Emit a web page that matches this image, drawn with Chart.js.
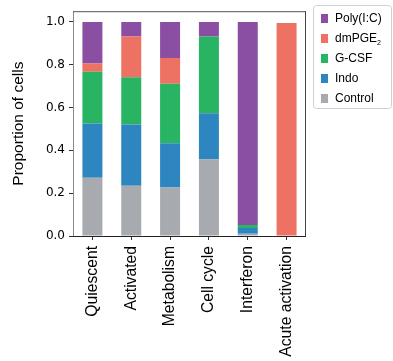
<!DOCTYPE html>
<html lang="en">

<head>
    <meta charset="UTF-8">
    <meta name="viewport" content="width=device-width, initial-scale=1.0">
    <title>Proportion of cells</title>
    <script src="https://cdn.jsdelivr.net/npm/chart.js"></script>
    <style>
        body { margin: 0; background: #fff; }
        #wrap { width: 393px; height: 361px; }
    </style>
</head>

<body>
    <div id="wrap"><canvas id="myChart"></canvas></div>

    <script>
        const categories = ['Quiescent', 'Activated', 'Metabolism', 'Cell cycle', 'Interferon', 'Acute activation'];
        const control = [0.272, 0.235, 0.226, 0.359, 0.011, 0];
        const indo = [0.253, 0.286, 0.207, 0.214, 0.026, 0];
        const gcsf = [0.242, 0.221, 0.278, 0.359, 0.014, 0];
        const dmpge2 = [0.039, 0.190, 0.120, 0, 0, 0.995];
        const polyIC = [0.194, 0.068, 0.169, 0.068, 0.949, 0];
        const yTicks = [0, 0.2, 0.4, 0.6, 0.8, 1.0];

        const sans = '"Liberation Sans", Arial, Helvetica, sans-serif';

        // box around the plot area
        const frame = {
            id: 'frame',
            afterDraw(chart) {
                const { ctx, chartArea: a } = chart;
                const seg = (x1, y1, x2, y2, c) => {
                    ctx.strokeStyle = c;
                    ctx.beginPath();
                    ctx.moveTo(x1, y1);
                    ctx.lineTo(x2, y2);
                    ctx.stroke();
                };
                ctx.save();
                ctx.lineWidth = 1;
                seg(a.left + 0.5, a.top, a.left + 0.5, a.bottom, '#888');
                seg(a.left, a.bottom + 0.5, a.right, a.bottom + 0.5, '#222');
                seg(a.left, a.top + 0.5, a.right, a.top + 0.5, '#555');
                seg(a.right - 0.5, a.top, a.right - 0.5, a.bottom, '#444');
                ctx.restore();
            }
        };

        // legend on the right, top dataset first, trailing digits drawn as subscripts
        const sideLegend = {
            id: 'sideLegend',
            afterDraw(chart) {
                const ctx = chart.ctx;
                const x0 = chart.chartArea.right + 7;
                ctx.save();
                ctx.strokeStyle = '#d0d0d0';
                ctx.lineWidth = 1;
                ctx.beginPath();
                ctx.roundRect(x0 + 0.5, 5.5, 78, 103, 3);
                ctx.stroke();
                const sets = chart.data.datasets.slice().reverse();
                sets.forEach((ds, i) => {
                    const cy = 18 + i * 20;
                    ctx.fillStyle = ds.backgroundColor;
                    ctx.fillRect(x0 + 8, cy - 4, 7, 9);
                    ctx.fillStyle = '#000';
                    ctx.textBaseline = 'middle';
                    ctx.font = '12px ' + sans;
                    const m = ds.label.match(/^(.*?)(\d*)$/);
                    ctx.fillText(m[1], x0 + 22, cy + 1);
                    if (m[2]) {
                        const w = ctx.measureText(m[1]).width;
                        ctx.font = '7px ' + sans;
                        ctx.fillText(m[2], x0 + 22 + w, cy + 5);
                    }
                });
                ctx.restore();
            }
        };

        const ctx = document.getElementById('myChart').getContext('2d');
        const myChart = new Chart(ctx, {
            type: 'bar',
            data: {
                labels: categories,
                datasets: [
                    { label: 'Control', data: control, backgroundColor: '#a7aaae' },
                    { label: 'Indo', data: indo, backgroundColor: '#2e86c1' },
                    { label: 'G-CSF', data: gcsf, backgroundColor: '#29b463' },
                    { label: 'dmPGE2', data: dmpge2, backgroundColor: '#ee7264' },
                    { label: 'Poly(I:C)', data: polyIC, backgroundColor: '#8a4fa3' }
                ]
            },
            options: {
                responsive: true,
                maintainAspectRatio: false,
                animation: false,
                layout: { padding: { left: 0, top: 8, right: 87, bottom: 0 } },
                datasets: { bar: { barPercentage: 0.515, categoryPercentage: 1, borderWidth: 0 } },
                plugins: { legend: { display: false }, tooltip: { enabled: false } },
                scales: {
                    x: {
                        stacked: true,
                        border: { display: false },
                        grid: { drawOnChartArea: false, offset: false, tickLength: 4, color: '#333' },
                        ticks: {
                            color: '#000', font: { family: sans, size: 15.7 },
                            minRotation: 90, maxRotation: 90, padding: 6, autoSkip: false
                        },
                        afterFit(scale) { scale.height = 125; }
                    },
                    y: {
                        stacked: true,
                        min: 0,
                        max: 1.05,
                        border: { display: false },
                        grid: { drawOnChartArea: false, tickLength: 4, color: '#333' },
                        ticks: {
                            color: '#000', font: { family: '"DejaVu Sans", sans-serif', size: 12 },
                            padding: 4, callback: v => v.toFixed(1)
                        },
                        afterBuildTicks(scale) { scale.ticks = yTicks.map(v => ({ value: v })); },
                        title: {
                            display: true, text: 'Proportion of cells', color: '#000',
                            font: { family: sans, size: 15.5 }, padding: { top: 9, bottom: 0 }
                        },
                        afterFit(scale) { scale.width = 73; }
                    }
                }
            },
            plugins: [frame, sideLegend]
        });
    </script>
</body>

</html>
